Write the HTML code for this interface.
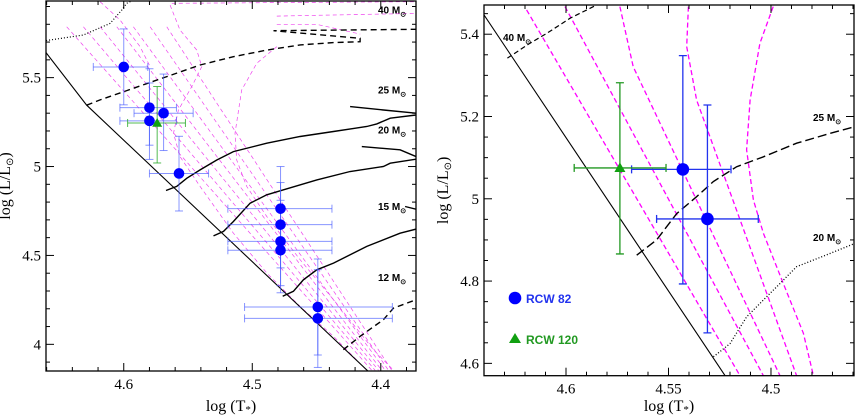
<!DOCTYPE html>
<html><head><meta charset="utf-8">
<style>
html,body{margin:0;padding:0;background:#fff;}
svg{display:block;font-family:"Liberation Serif",serif;}
</style></head>
<body>
<svg id="fig" width="855" height="417" viewBox="0 0 855 417" xmlns="http://www.w3.org/2000/svg"></svg>
<script>
// ---------- LEFT PANEL DATA ----------
const leftBlueT = [4.600, 4.580, 4.580, 4.569, 4.557, 4.478, 4.478, 4.478, 4.478, 4.449, 4.449];
const leftBlueL = [5.56, 5.331, 5.257, 5.30, 4.961, 4.763, 4.673, 4.579, 4.529, 4.21, 4.146];
const leftBlueTlo = [4.6237, 4.603, 4.603, 4.592, 4.580, 4.519, 4.519, 4.519, 4.519, 4.506, 4.506];
const leftBlueThi = [4.5813, 4.559, 4.559, 4.546, 4.534, 4.438, 4.438, 4.438, 4.438, 4.391, 4.391];
const leftBlueLhi = [5.774, 5.55, 5.47, 5.52, 5.17, 5.00, 4.91, 4.81, 4.75, 4.48, 4.42];
const leftBlueLlo = [5.347, 5.12, 5.04, 5.09, 4.75, 4.55, 4.43, 4.33, 4.29, 3.94, 3.87];
const leftGreenT = [4.574];
const leftGreenL = [5.245];
const leftGreenTlo = [4.597];
const leftGreenThi = [4.552];
const leftGreenLhi = [5.45];
const leftGreenLlo = [5.02];

const leftZamsT = [4.6604, 4.6288, 4.41];
const leftZamsL = [5.64, 5.345, 3.85];
const leftTrack40T = [4.6288, 4.6184, 4.5925, 4.5665, 4.5406, 4.5147, 4.4887, 4.4628, 4.4368, 4.4161, 4.4161, 4.4835, 4.3725];
const leftTrack40L = [5.345, 5.375, 5.44, 5.506, 5.571, 5.618, 5.655, 5.684, 5.697, 5.702, 5.721, 5.764, 5.772];
const leftTopDotT = [4.6604, 4.6314, 4.6106, 4.6016, 4.5977, 4.5925];
const leftTopDotL = [5.708, 5.74, 5.805, 5.88, 5.918, 5.936];
const leftTrack25T = [4.5671, 4.5588, 4.551, 4.5406, 4.5276, 4.5147, 4.4887, 4.4628, 4.4368, 4.4109, 4.4031, 4.3927, 4.3725];
const leftTrack25L = [4.865, 4.888, 4.934, 4.981, 5.037, 5.084, 5.131, 5.169, 5.197, 5.225, 5.24, 5.272, 5.29];
const leftTrack25bT = [4.4239, 4.3979, 4.3725];
const leftTrack25bL = [5.337, 5.318, 5.30];
const leftTrack20T = [4.5302, 4.5224, 4.5147, 4.5017, 4.4887, 4.4757, 4.4498, 4.4239, 4.3979, 4.3927, 4.3725];
const leftTrack20L = [4.61, 4.635, 4.691, 4.794, 4.841, 4.869, 4.925, 4.972, 5.0, 5.019, 5.041];
const leftTrack20bT = [4.4148, 4.385, 4.3725];
const leftTrack20bL = [5.112, 5.094, 5.056];
const leftTrack15T = [4.4763, 4.468, 4.4602, 4.4498, 4.4368, 4.4109, 4.385, 4.3725];
const leftTrack15L = [4.27, 4.298, 4.363, 4.419, 4.457, 4.551, 4.625, 4.648];
const leftTrack15bT = [4.3811, 4.3725];
const leftTrack15bL = [4.775, 4.76];
const leftTrack12T = [4.4291, 4.4161, 4.3979, 4.3901, 4.3725];
const leftTrack12L = [3.97, 4.045, 4.139, 4.204, 4.251];

const leftIsoTopT = [4.6444, 4.6314, 4.6184, 4.6054, 4.5925, 4.5795, 4.5665];
const leftIsoTopL = [5.786, 5.786, 5.786, 5.786, 5.786, 5.786, 5.786];
const leftIsoBotT = [4.407, 4.4044, 4.4018, 4.3992, 4.3966, 4.394, 4.3914];
const leftIsoBotL = [3.854, 3.854, 3.854, 3.854, 3.854, 3.854, 3.854];
const leftIsoAT = [4.5639, 4.5562, 4.5432, 4.5393, 4.5471, 4.5575, 4.5613, 4.5562, 4.5406, 4.5147, 4.4887, 4.4628, 4.4368, 4.4109];
const leftIsoAL = [5.908, 5.768, 5.655, 5.562, 5.449, 5.318, 5.187, 5.056, 4.888, 4.625, 4.401, 4.213, 4.045, 3.854];
const leftIsoBT = [4.4809, 4.4965, 4.5082, 4.5134, 4.5121, 4.5043, 4.4887, 4.4628, 4.4368, 4.4057, 4.3901];
const leftIsoBL = [5.674, 5.581, 5.431, 5.187, 5.037, 4.888, 4.719, 4.476, 4.251, 3.970, 3.854];
const leftIsoCT = [4.6184, 4.6029, 4.5873, 4.5795];
const leftIsoCL = [5.927, 5.824, 5.674, 5.562];
const leftIsoDT = [4.5626, 4.3725];
const leftIsoDL = [5.918, 5.927];
const leftIsoET = [4.4809, 4.3725];
const leftIsoEL = [5.846, 5.861];
const leftIsoFT = [4.4809, 4.45, 4.416];
const leftIsoFL = [5.80, 5.80, 5.745];

const leftXTicks = [4.6, 4.5, 4.4];
const leftXTickLabels = ["4.6", "4.5", "4.4"];
const leftYTicks = [4, 4.5, 5, 5.5];
const leftYTickLabels = ["4", "4.5", "5", "5.5"];
const leftMassLabels = ["40", "25", "20", "15", "12"];
const leftMassLabelL = [5.86, 5.41, 5.185, 4.755, 4.355];

// ---------- RIGHT PANEL DATA ----------
const rightBlueT = [4.543, 4.531];
const rightBlueL = [5.0715, 4.951];
const rightBlueTlo = [4.568, 4.5558];
const rightBlueThi = [4.5195, 4.5062];
const rightBlueLhi = [5.348, 5.228];
const rightBlueLlo = [4.793, 4.674];
const rightGreenT = [4.5737];
const rightGreenL = [5.075];
const rightGreenTlo = [4.596];
const rightGreenThi = [4.5512];
const rightGreenLhi = [5.282];
const rightGreenLlo = [4.866];

const rightZamsT = [4.64, 4.5224];
const rightZamsL = [5.447, 4.570];
const rightTrack40T = [4.6286, 4.6176, 4.6094, 4.598, 4.585];
const rightTrack40L = [5.342, 5.378, 5.402, 5.439, 5.471];
const rightTrack25T = [4.5655, 4.5558, 4.546, 4.5363, 4.5281, 4.5167, 4.5037, 4.4875, 4.4712, 4.4593];
const rightTrack25L = [4.863, 4.9, 4.964, 5.005, 5.042, 5.078, 5.102, 5.135, 5.159, 5.175];
const rightTrack20T = [4.5281, 4.52, 4.5119, 4.5037, 4.4956, 4.4875, 4.4712, 4.4593];
const rightTrack20L = [4.616, 4.648, 4.713, 4.754, 4.794, 4.835, 4.867, 4.891];
const rightIso1T = [4.6192, 4.5151];
const rightIso1L = [5.459, 4.570];
const rightIso2T = [4.6005, 4.5037];
const rightIso2L = [5.467, 4.570];
const rightIso3T = [4.5737, 4.5672, 4.4956];
const rightIso3L = [5.467, 5.321, 4.570];
const rightIso4T = [4.5403, 4.5411, 4.5363, 4.4875];
const rightIso4L = [5.467, 5.37, 5.24, 4.570];
const rightIso5T = [4.4989, 4.5054, 4.5102, 4.5119, 4.5086, 4.5037, 4.494, 4.4842, 4.4793];
const rightIso5L = [5.467, 5.378, 5.24, 5.119, 4.997, 4.916, 4.794, 4.673, 4.570];

const rightXTicks = [4.6, 4.55, 4.5];
const rightXTickLabels = ["4.6", "4.55", "4.5"];
const rightYTicks = [4.6, 4.8, 5, 5.2, 5.4];
const rightYTickLabels = ["4.6", "4.8", "5", "5.2", "5.4"];

const NS = "http://www.w3.org/2000/svg";
const svg = document.getElementById("fig");
function mk(tag, attrs, parent) {
  const e = document.createElementNS(NS, tag);
  for (const k in attrs) e.setAttribute(k, attrs[k]);
  (parent || svg).appendChild(e);
  return e;
}
function makePanel(x0, y0, x1, y1, tmin, tmax, lmin, lmax) {
  return {
    x: t => x0 + (tmax - t) / (tmax - tmin) * (x1 - x0),
    y: l => y1 - (l - lmin) / (lmax - lmin) * (y1 - y0),
    x0, y0, x1, y1, tmin, tmax, lmin, lmax
  };
}
const PL = makePanel(46, 1, 416, 371, 4.3726, 4.6605, 3.85, 5.931);
const PR = makePanel(484, 5, 854, 375.7, 4.4595, 4.64, 4.570, 5.471);

function clip(id, P) {
  const d = mk("defs", {});
  const c = mk("clipPath", {id: id}, d);
  mk("rect", {x: P.x0, y: P.y0, width: P.x1 - P.x0, height: P.y1 - P.y0}, c);
}
clip("cl", PL); clip("cr", PR);

function line(P, g, T, L, stroke, w, dash, name) {
  let d = "";
  for (let i = 0; i < T.length; i++) d += (i ? "L" : "M") + P.x(T[i]).toFixed(1) + " " + P.y(L[i]).toFixed(1);
  const p = mk("path", {d: d, fill: "none", stroke: stroke, "stroke-width": w, "stroke-dasharray": dash || "none"}, g);
  
  
  return p;
}
function errbars(P, g, T, L, Tlo, Thi, Llo, Lhi, color, cap, w, name) {
  for (let i = 0; i < T.length; i++) {
    const eg = mk("g", {stroke: color, "stroke-width": w, fill: "none"}, g);
    
    
    const x = P.x(T[i]), y = P.y(L[i]);
    const xa = P.x(Tlo[i]), xb = P.x(Thi[i]), ya = P.y(Lhi[i]), yb = P.y(Llo[i]);
    mk("line", {x1: xa, y1: y, x2: xb, y2: y}, eg);
    mk("line", {x1: x, y1: ya, x2: x, y2: yb}, eg);
    mk("line", {x1: xa, y1: y - cap, x2: xa, y2: y + cap}, eg);
    mk("line", {x1: xb, y1: y - cap, x2: xb, y2: y + cap}, eg);
    mk("line", {x1: x - cap, y1: ya, x2: x + cap, y2: ya}, eg);
    mk("line", {x1: x - cap, y1: yb, x2: x + cap, y2: yb}, eg);
  }
}
function circles(P, g, T, L, r, color, name) {
  for (let i = 0; i < T.length; i++) {
    const c = mk("circle", {cx: P.x(T[i]), cy: P.y(L[i]), r: r, fill: color}, g);
    
    
  }
}
function tris(P, g, T, L, s, color, name) {
  for (let i = 0; i < T.length; i++) {
    const x = P.x(T[i]), y = P.y(L[i]);
    const p = mk("polygon", {points: `${x},${y - s} ${x - s},${y + s * 0.75} ${x + s},${y + s * 0.75}`, fill: color}, g);
    
    
  }
}
function axes(P, xt, xtl, yt, ytl, xminor, yminor, name) {
  const g = mk("g", {stroke: "#000", "stroke-width": 1, fill: "none"});
  
  
  for (let t = Math.ceil(P.tmin / xminor - 1e-6) * xminor; t <= P.tmax + 1e-9; t += xminor) {
    const major = xt.some(v => Math.abs(v - t) < 1e-6);
    const len = major ? 8 : 4, x = P.x(t);
    mk("line", {x1: x, y1: P.y1, x2: x, y2: P.y1 - len}, g);
    mk("line", {x1: x, y1: P.y0, x2: x, y2: P.y0 + len}, g);
  }
  for (let l = Math.ceil(P.lmin / yminor - 1e-6) * yminor; l <= P.lmax + 1e-9; l += yminor) {
    const major = yt.some(v => Math.abs(v - l) < 1e-6);
    const len = major ? 8 : 4, y = P.y(l);
    mk("line", {x1: P.x0, y1: y, x2: P.x0 + len, y2: y}, g);
    mk("line", {x1: P.x1, y1: y, x2: P.x1 - len, y2: y}, g);
  }
  mk("rect", {x: P.x0, y: P.y0, width: P.x1 - P.x0, height: P.y1 - P.y0, "stroke-width": 1.3}, g);
  const tg = mk("g", {"font-size": 15, fill: "#000"});
  
  
  xt.forEach((v, i) => {
    const t = mk("text", {x: P.x(v), y: P.y1 + 18, "text-anchor": "middle"}, tg);
    t.textContent = xtl[i];
  });
  yt.forEach((v, i) => {
    const t = mk("text", {x: P.x0 - 5, y: P.y(v) + 5, "text-anchor": "end"}, tg);
    t.textContent = ytl[i];
  });
  const xl = mk("text", {x: (P.x0 + P.x1) / 2, y: 411, "text-anchor": "middle", "font-size": 16});
  
  
  xl.innerHTML = 'log (T<tspan font-size="11" dy="2">*</tspan><tspan dy="-2">)</tspan>';
  const yx = P.x0 - 36, yy = (P.y0 + P.y1) / 2;
  const yl = mk("text", {x: yx, y: yy, "text-anchor": "middle", "font-size": 16, transform: `rotate(-90 ${yx} ${yy})`});
  
  
  yl.innerHTML = 'log (L/L<tspan font-size="10" dy="3">⊙</tspan><tspan dy="-3">)</tspan>';
}
function massLabel(x, y, m, name) {
  const t = mk("text", {x: x, y: y, "font-size": 10, "font-weight": "bold", "font-family": "Liberation Sans, sans-serif"});
  
  
  t.innerHTML = m + ' M<tspan font-size="7" dy="3">⊙</tspan>';
}

// ----- LEFT -----
const gl = mk("g", {"clip-path": "url(#cl)"});


const mag = "#ee44ee";
for (let i = 0; i < leftIsoTopT.length; i++)
  line(PL, gl, [leftIsoTopT[i], leftIsoBotT[i]], [leftIsoTopL[i], leftIsoBotL[i]], mag, 0.7, "4 3", "left-isochrone");
line(PL, gl, leftIsoAT, leftIsoAL, mag, 0.7, "4 3", "left-isochrone");
line(PL, gl, leftIsoBT, leftIsoBL, mag, 0.7, "4 3", "left-isochrone");
line(PL, gl, leftIsoCT, leftIsoCL, mag, 0.7, "4 3", "left-isochrone");
line(PL, gl, leftIsoDT, leftIsoDL, mag, 0.7, "4 3", "left-isochrone");
line(PL, gl, leftIsoET, leftIsoEL, mag, 0.7, "4 3", "left-isochrone");
line(PL, gl, leftIsoFT, leftIsoFL, mag, 0.7, "4 3", "left-isochrone");
line(PL, gl, leftZamsT, leftZamsL, "#000", 1.1, null, "left-zams");
line(PL, gl, leftTopDotT, leftTopDotL, "#000", 1.2, "1 2", "left-track-60");
line(PL, gl, leftTrack40T, leftTrack40L, "#000", 1.4, "6 4", "left-track-40");
line(PL, gl, leftTrack25T, leftTrack25L, "#000", 1.4, null, "left-track-25");
line(PL, gl, leftTrack25bT, leftTrack25bL, "#000", 1.4, null, "left-track-25");
line(PL, gl, leftTrack20T, leftTrack20L, "#000", 1.4, null, "left-track-20");
line(PL, gl, leftTrack20bT, leftTrack20bL, "#000", 1.4, null, "left-track-20");
line(PL, gl, leftTrack15T, leftTrack15L, "#000", 1.4, null, "left-track-15");
line(PL, gl, leftTrack15bT, leftTrack15bL, "#000", 1.4, null, "left-track-15");
line(PL, gl, leftTrack12T, leftTrack12L, "#000", 1.4, "6 4", "left-track-12");
errbars(PL, gl, leftBlueT, leftBlueL, leftBlueTlo, leftBlueThi, leftBlueLlo, leftBlueLhi, "rgba(70,90,255,0.65)", 4, 1, "left-rcw82");
errbars(PL, gl, leftGreenT, leftGreenL, leftGreenTlo, leftGreenThi, leftGreenLlo, leftGreenLhi, "rgba(40,170,40,0.8)", 4, 1, "left-rcw120");
circles(PL, gl, leftBlueT, leftBlueL, 5.3, "#0000ff", "left-rcw82-point");
tris(PL, gl, leftGreenT, leftGreenL, 5, "#11a011", "left-rcw120-point");
axes(PL, leftXTicks, leftXTickLabels, leftYTicks, leftYTickLabels, 0.02, 0.1, "left");
leftMassLabels.forEach((m, i) => massLabel(378, PL.y(leftMassLabelL[i]), m, "left-mass-label-" + m));

// ----- RIGHT -----
const gr = mk("g", {"clip-path": "url(#cr)"});


[[rightIso1T, rightIso1L], [rightIso2T, rightIso2L], [rightIso3T, rightIso3L], [rightIso4T, rightIso4L], [rightIso5T, rightIso5L]]
  .forEach(a => line(PR, gr, a[0], a[1], "#ff00ff", 1.3, "5 3", "right-isochrone"));
line(PR, gr, rightZamsT, rightZamsL, "#000", 1.1, null, "right-zams");
line(PR, gr, rightTrack40T, rightTrack40L, "#000", 1.2, "5 3", "right-track-40");
line(PR, gr, rightTrack25T, rightTrack25L, "#000", 1.4, "9 4", "right-track-25");
line(PR, gr, rightTrack20T, rightTrack20L, "#000", 1.3, "1 2", "right-track-20");
errbars(PR, gr, rightBlueT, rightBlueL, rightBlueTlo, rightBlueThi, rightBlueLlo, rightBlueLhi, "#2233ee", 4, 1.3, "right-rcw82");
errbars(PR, gr, rightGreenT, rightGreenL, rightGreenTlo, rightGreenThi, rightGreenLlo, rightGreenLhi, "#229922", 4, 1.3, "right-rcw120");
circles(PR, gr, rightBlueT, rightBlueL, 6.3, "#0000ff", "right-rcw82-point");
tris(PR, gr, rightGreenT, rightGreenL, 5.5, "#11a011", "right-rcw120-point");
axes(PR, rightXTicks, rightXTickLabels, rightYTicks, rightYTickLabels, 0.01, 0.05, "right");
massLabel(503, 41, "40", "right-mass-label-40");
massLabel(813, 121, "25", "right-mass-label-25");
massLabel(813, 241, "20", "right-mass-label-20");

// legend
const lg = mk("g", {});


const lc = mk("circle", {cx: 515, cy: 298, r: 6.3, fill: "#0000ff"}, lg);


const lt1 = mk("text", {x: 526, y: 303, "font-size": 12, "font-weight": "bold", fill: "#2233ee", "font-family": "Liberation Sans, sans-serif"}, lg);


lt1.textContent = "RCW 82";
const lp = mk("polygon", {points: "515,333 509,343 521,343", fill: "#11a011"}, lg);


const lt2 = mk("text", {x: 526, y: 344, "font-size": 12, "font-weight": "bold", fill: "#229922", "font-family": "Liberation Sans, sans-serif"}, lg);


lt2.textContent = "RCW 120";
</script>
</body></html>
